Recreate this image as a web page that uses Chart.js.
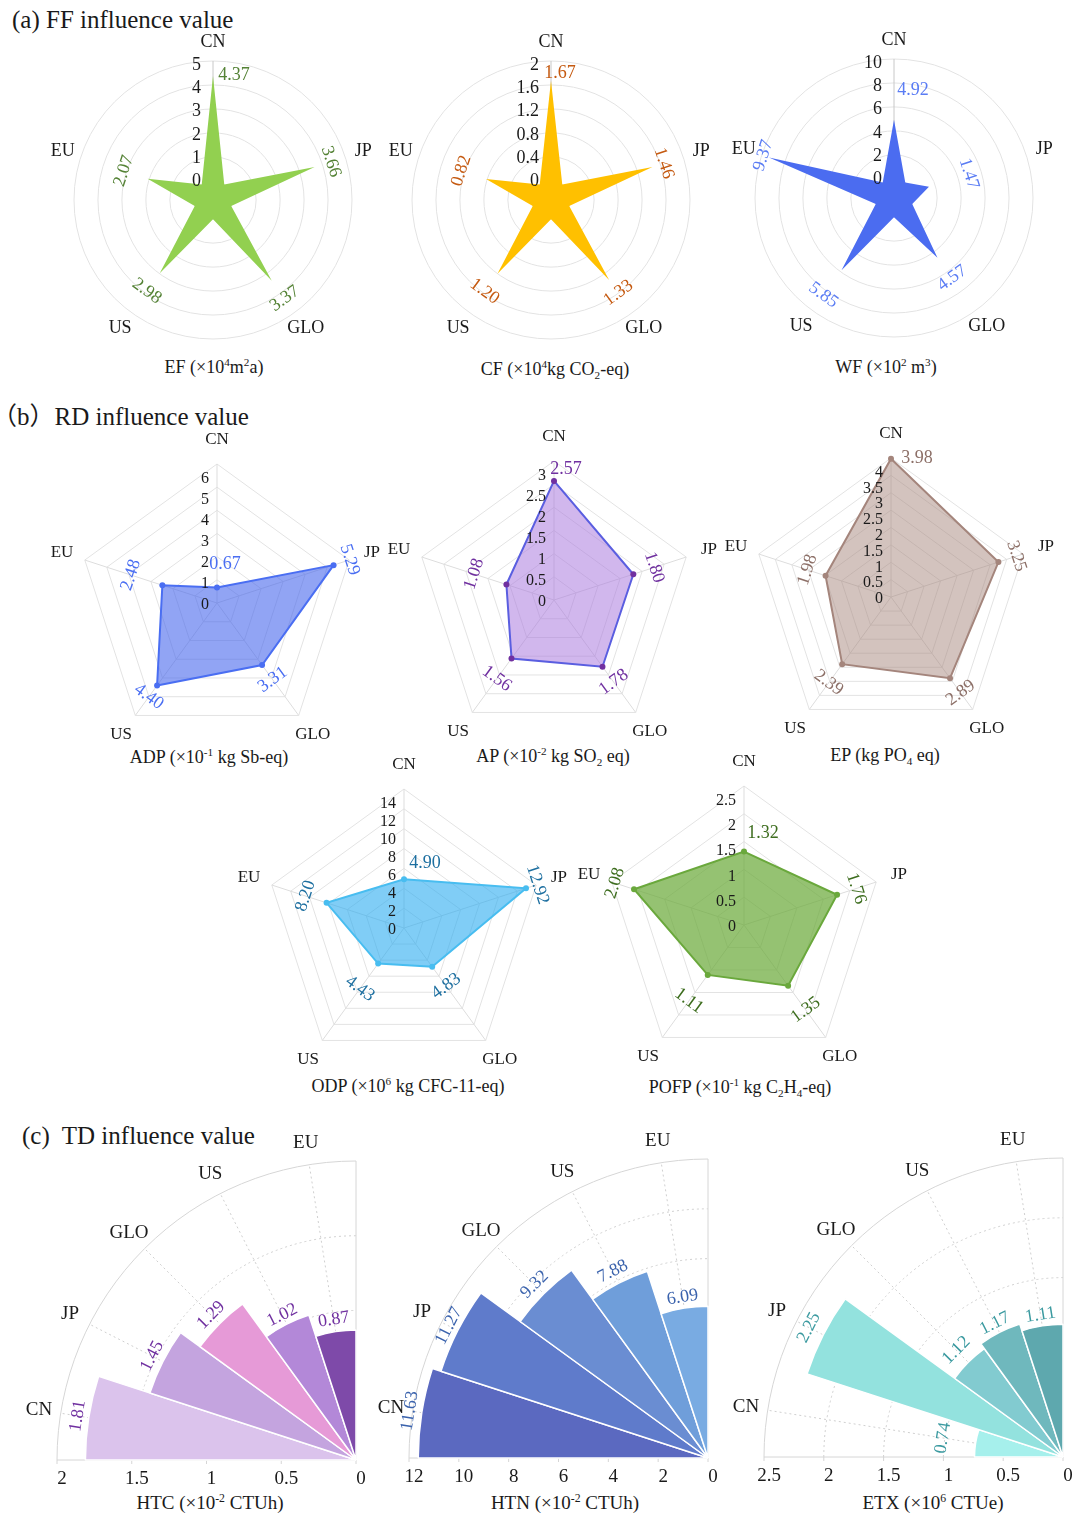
<!DOCTYPE html>
<html>
<head>
<meta charset="utf-8">
<script src="https://cdn.jsdelivr.net/npm/chart.js@4.4.0/dist/chart.umd.min.js"></script>
<style>
body{margin:0;background:#fff;width:1089px;height:1513px;position:relative;overflow:hidden;
  font-family:"Liberation Serif","Times New Roman","Noto Sans CJK SC",serif;color:#1a1a1a;}
canvas{position:absolute;}
.wrap{position:absolute;overflow:hidden;}
.h{position:absolute;white-space:nowrap;font-size:25px;transform:translateY(-50%);}
.t{position:absolute;white-space:nowrap;font-size:18px;transform:translate(-50%,-50%);}
.t.c{font-size:19px;}
sup,sub{font-size:0.62em;line-height:0;}
</style>
</head>
<body>
<div class="h" style="left:12px;top:20px">(a) FF influence value</div>
<div class="h" style="left:-8px;top:414px">（b）RD influence value</div>
<div class="h" style="left:22px;top:1136px">(c)&nbsp; TD influence value</div>

<div class="t" style="left:214px;top:367px">EF (×10<sup>4</sup>m<sup>2</sup>a)</div>
<div class="t" style="left:555px;top:369px">CF (×10<sup>4</sup>kg CO<sub>2</sub>-eq)</div>
<div class="t" style="left:886px;top:367px">WF (×10<sup>2</sup> m<sup>3</sup>)</div>
<div class="t" style="left:209px;top:757px">ADP (×10<sup>-1</sup> kg Sb-eq)</div>
<div class="t" style="left:553px;top:756px">AP (×10<sup>-2</sup> kg SO<sub>2</sub> eq)</div>
<div class="t" style="left:885px;top:755px">EP (kg PO<sub>4</sub> eq)</div>
<div class="t" style="left:408px;top:1086px">ODP (×10<sup>6</sup> kg CFC-11-eq)</div>
<div class="t" style="left:740px;top:1087px">POFP (×10<sup>-1</sup> kg C<sub>2</sub>H<sub>4</sub>-eq)</div>
<div class="t c" style="left:210px;top:1503px">HTC (×10<sup>-2</sup> CTUh)</div>
<div class="t c" style="left:565px;top:1503px">HTN (×10<sup>-2</sup> CTUh)</div>
<div class="t c" style="left:933px;top:1503px">ETX (×10<sup>6</sup> CTUe)</div>

<script>
// categories
const regions = ['CN', 'JP', 'GLO', 'US', 'EU'];

// (a) FF influence values
const efVals = [4.37, 3.66, 3.37, 2.98, 2.07];
const cfVals = [1.67, 1.46, 1.33, 1.20, 0.82];
const wfVals = [4.92, 1.47, 4.57, 5.85, 9.37];
const efTicks = [0, 1, 2, 3, 4, 5];
const cfTicks = [0, 0.4, 0.8, 1.2, 1.6, 2];
const wfTicks = [0, 2, 4, 6, 8, 10];

// (b) RD influence values
const adpVals = [0.67, 5.29, 3.31, 4.40, 2.48];
const apVals = [2.57, 1.80, 1.78, 1.56, 1.08];
const epVals = [3.98, 3.25, 2.89, 2.39, 1.98];
const odpVals = [4.90, 12.92, 4.83, 4.43, 8.20];
const pofpVals = [1.32, 1.76, 1.35, 1.11, 2.08];
const adpTicks = [0, 1, 2, 3, 4, 5, 6];
const apTicks = [0, 0.5, 1, 1.5, 2, 2.5, 3];
const epTicks = [0, 0.5, 1, 1.5, 2, 2.5, 3, 3.5, 4];
const odpTicks = [0, 2, 4, 6, 8, 10, 12, 14];
const pofpTicks = [0, 0.5, 1, 1.5, 2, 2.5];

// (c) TD influence values
const htcVals = [1.81, 1.45, 1.29, 1.02, 0.87];
const htnVals = [11.63, 11.27, 9.32, 7.88, 6.09];
const etxVals = [0.74, 2.25, 1.12, 1.17, 1.11];
const htcTicks = [0, 0.5, 1, 1.5, 2];
const htnTicks = [0, 2, 4, 6, 8, 10, 12];
const etxTicks = [0, 0.5, 1, 1.5, 2, 2.5];

const FONT = '"Liberation Serif", "Times New Roman", serif';

function makeCanvas(parent, left, top, w, h) {
  const c = document.createElement('canvas');
  c.width = w; c.height = h;
  c.style.left = left + 'px'; c.style.top = top + 'px';
  c.style.width = w + 'px'; c.style.height = h + 'px';
  parent.appendChild(c);
  return c;
}

// text turned along the circle, never upside down
function rot(a) {
  let d = (90 + a * 180 / Math.PI) % 360;
  if (d > 180) d -= 360;
  if (d < -180) d += 360;
  if (d > 90) d -= 180;
  if (d < -90) d += 180;
  return d * Math.PI / 180;
}

function radar(p) {
  const W = 360, H = 370, ox = 180, oy = 185, R = 139;
  const canvas = makeCanvas(document.body, p.cx - ox, p.cy - oy, W, H);
  const labels = [], data = [];
  regions.forEach((r, i) => {
    labels.push(r); data.push(p.vals[i]);
    if (p.star) { labels.push(''); data.push(0); }
  });
  const k = p.star ? 2 : 1;
  const max = p.ticks[p.ticks.length - 1];
  const min = p.star ? -0.8 * (p.ticks[1] - p.ticks[0]) : 0;

  new Chart(canvas, {
    type: 'radar',
    data: {
      labels: labels,
      datasets: [{
        data: data,
        fill: 'start',
        backgroundColor: p.fill,
        borderColor: p.star ? p.fill : p.line,
        borderWidth: p.star ? 0 : 2,
        pointRadius: p.star ? 0 : 3,
        pointBackgroundColor: p.dot || p.line,
        pointBorderWidth: 0,
        tension: 0
      }]
    },
    options: {
      responsive: false,
      animation: false,
      layout: { padding: { left: ox - R, right: W - ox - R, top: oy - R, bottom: H - oy - R } },
      plugins: { legend: { display: false }, tooltip: { enabled: false } },
      scales: {
        r: {
          min: min, max: max,
          afterBuildTicks: s => { s.ticks = p.ticks.map(v => ({ value: v })); },
          grid: { circular: !!p.star, color: '#e3e3e3', lineWidth: 1 },
          angleLines: {
            color: c => p.star ? (c.index === 0 ? '#c8c8c8' : 'rgba(0,0,0,0)') : '#dddddd',
            lineWidth: 1
          },
          ticks: { display: false },
          pointLabels: { display: false }
        }
      }
    },
    plugins: [{
      id: 'radarText',
      afterDraw(chart) {
        const s = chart.scales.r, ctx = chart.ctx;
        const xc = s.xCenter, yc = s.yCenter;
        ctx.save();
        ctx.textBaseline = 'middle';
        ctx.fillStyle = '#1a1a1a';
        ctx.textAlign = 'right';
        ctx.font = p.tickFont + 'px ' + FONT;
        p.ticks.forEach(v => {
          ctx.fillText(String(v), xc - p.tickDx, yc - s.getDistanceFromCenterForValue(v) * p.tickK + p.tickDy);
        });
        ctx.textAlign = 'center';
        ctx.font = p.nameFont + 'px ' + FONT;
        regions.forEach((r, i) => {
          const pt = s.getPointPosition(i * k, R + p.nameGap);
          ctx.fillText(r, pt.x, pt.y);
        });
        ctx.fillStyle = p.text;
        ctx.font = '18px ' + FONT;
        p.vals.forEach((v, i) => {
          const d = s.getDistanceFromCenterForValue(v);
          if (i === 0) {
            ctx.fillText(v.toFixed(2), xc + p.cnDx, yc - d - p.lab[0]);
            return;
          }
          const pt = s.getPointPosition(i * k, d + p.lab[i]);
          ctx.save();
          ctx.translate(pt.x, pt.y);
          ctx.rotate(rot(pt.angle));
          ctx.fillText(v.toFixed(2), 0, 0);
          ctx.restore();
        });
        ctx.restore();
      }
    }]
  });
}

function rose(p) {
  const R = 299, m = 41, S = 2 * (R + m);
  // only the upper-left quarter of the round chart is shown
  const wrap = document.createElement('div');
  wrap.className = 'wrap';
  wrap.style.left = (p.cx - R - m) + 'px';
  wrap.style.top = (p.cy - R - m) + 'px';
  wrap.style.width = (R + m + 20) + 'px';
  wrap.style.height = (R + m + 35) + 'px';
  document.body.appendChild(wrap);
  const canvas = makeCanvas(wrap, 0, 0, S, S);
  const max = p.ticks[p.ticks.length - 1];

  new Chart(canvas, {
    type: 'polarArea',
    data: {
      labels: regions,
      datasets: [{
        data: p.vals,
        backgroundColor: p.colors,
        borderColor: '#ffffff',
        borderWidth: 1.5,
        angle: 90 / regions.length
      }]
    },
    options: {
      responsive: false,
      animation: false,
      layout: { padding: m },
      plugins: { legend: { display: false }, tooltip: { enabled: false } },
      scales: {
        r: {
          min: 0, max: max,
          startAngle: 270,
          afterBuildTicks: s => { s.ticks = p.ticks.map(v => ({ value: v })); },
          grid: { display: false },
          angleLines: { display: false },
          ticks: { display: false },
          pointLabels: { display: false }
        }
      }
    },
    plugins: [{
      id: 'roseGrid',
      beforeDatasetsDraw(chart) {
        const s = chart.scales.r, ctx = chart.ctx;
        const xc = s.xCenter, yc = s.yCenter;
        const arcs = chart.getDatasetMeta(0).data;
        const a0 = arcs[0].startAngle, a1 = arcs[arcs.length - 1].endAngle;
        const rMax = s.getDistanceFromCenterForValue(max);
        ctx.save();
        ctx.lineWidth = 1;
        ctx.strokeStyle = '#cfcfcf';
        ctx.setLineDash([2, 3]);
        p.ticks.slice(1, -1).forEach(v => {
          ctx.beginPath();
          ctx.arc(xc, yc, s.getDistanceFromCenterForValue(v), a0, a1);
          ctx.stroke();
        });
        arcs.forEach(a => {
          const mid = (a.startAngle + a.endAngle) / 2;
          ctx.beginPath();
          ctx.moveTo(xc, yc);
          ctx.lineTo(xc + rMax * Math.cos(mid), yc + rMax * Math.sin(mid));
          ctx.stroke();
        });
        ctx.setLineDash([]);
        ctx.strokeStyle = '#d6d6d6';
        ctx.beginPath();
        ctx.arc(xc, yc, rMax, a0, a1);
        ctx.stroke();
        ctx.beginPath();
        ctx.moveTo(xc - rMax, yc);
        ctx.lineTo(xc, yc);
        ctx.lineTo(xc, yc - rMax);
        p.ticks.forEach(v => {
          const x = xc - s.getDistanceFromCenterForValue(v);
          ctx.moveTo(x, yc);
          ctx.lineTo(x, yc + 4);
        });
        ctx.stroke();
        ctx.restore();
      },
      afterDraw(chart) {
        const s = chart.scales.r, ctx = chart.ctx;
        const xc = s.xCenter, yc = s.yCenter;
        const arcs = chart.getDatasetMeta(0).data;
        const rMax = s.getDistanceFromCenterForValue(max);
        ctx.save();
        ctx.textAlign = 'center';
        ctx.textBaseline = 'middle';
        ctx.fillStyle = '#1a1a1a';
        ctx.font = '19px ' + FONT;
        p.ticks.forEach(v => {
          ctx.fillText(String(v), xc - s.getDistanceFromCenterForValue(v) + 5, yc + 19);
        });
        arcs.forEach((a, i) => {
          const mid = (a.startAngle + a.endAngle) / 2;
          ctx.fillText(regions[i], xc + (rMax + 22) * Math.cos(mid), yc + (rMax + 22) * Math.sin(mid));
        });
        ctx.fillStyle = p.text;
        ctx.font = '18px ' + FONT;
        arcs.forEach((a, i) => {
          const mid = (a.startAngle + a.endAngle) / 2;
          const d = s.getDistanceFromCenterForValue(p.vals[i]) + p.lab[i];
          ctx.save();
          ctx.translate(xc + d * Math.cos(mid), yc + d * Math.sin(mid));
          ctx.rotate(rot(mid));
          ctx.fillText(p.vals[i].toFixed(2), 0, 0);
          ctx.restore();
        });
        ctx.restore();
      }
    }]
  });
}

const aStyle = { star: true, tickFont: 18, tickDx: 12, tickK: 0.97, tickDy: 0, nameFont: 18, nameGap: 19 };
const bStyle = { star: false, tickFont: 16, tickDx: 8, tickK: 0.91, tickDy: 2, nameFont: 17, nameGap: 24 };

radar(Object.assign({}, aStyle, { cx: 213, cy: 200, vals: efVals, ticks: efTicks,
  fill: '#92d050', text: '#548235', cnDx: 21, lab: [1, 17, 22, 22, 25] }));
radar(Object.assign({}, aStyle, { cx: 551, cy: 200, vals: cfVals, ticks: cfTicks,
  fill: '#ffc000', text: '#c55a11', cnDx: 9, lab: [8, 12, 16, 22, 26] }));
radar(Object.assign({}, aStyle, { cx: 894, cy: 198, vals: wfVals, ticks: wfTicks,
  fill: '#4b6cf0', text: '#5a7cf4', cnDx: 19, lab: [30, 42, 25, 31, 6] }));

radar(Object.assign({}, bStyle, { cx: 217, cy: 603, vals: adpVals, ticks: adpTicks,
  fill: 'rgba(72,104,236,0.6)', line: '#4a6ef2', text: '#4a6ef2', cnDx: 8, lab: [23, 17, 18, 14, 33] }));
radar(Object.assign({}, bStyle, { cx: 554, cy: 600, vals: apVals, ticks: apTicks,
  fill: 'rgba(172,124,222,0.55)', line: '#5a5ee0', dot: '#7030a0', text: '#7030a0', cnDx: 12, lab: [12, 22, 19, 25, 34] }));
radar(Object.assign({}, bStyle, { cx: 891, cy: 597, vals: epVals, ticks: epTicks,
  fill: 'rgba(168,136,126,0.5)', line: '#a4857c', text: '#8d7068', cnDx: 26, lab: [0, 19, 18, 23, 19] }));
radar(Object.assign({}, bStyle, { cx: 404, cy: 928, vals: odpVals, ticks: odpTicks,
  fill: 'rgba(44,172,240,0.6)', line: '#48bdf0', text: '#1d6fa0', cnDx: 21, lab: [16, 12, 24, 31, 22] }));
radar(Object.assign({}, bStyle, { cx: 744, cy: 925, vals: pofpVals, ticks: pofpTicks,
  fill: 'rgba(108,170,60,0.72)', line: '#6aa83c', text: '#3d6d1e', cnDx: 19, lab: [18, 20, 30, 32, 20] }));

rose({ cx: 356, cy: 1460, vals: htcVals, ticks: htcTicks, text: '#7030a0',
  colors: ['#dbc3ec', '#c4a4df', '#e69ad7', '#b388d8', '#7e4aa9'], lab: [11, 12, 12, 10, 12] });
rose({ cx: 708, cy: 1458, vals: htnVals, ticks: htnTicks, text: '#3b63ad',
  colors: ['#5b69c0', '#5f7bcb', '#6a8dd2', '#6f9eda', '#79abe2'], lab: [12, 10, 13, 13, 11] });
rose({ cx: 1063, cy: 1457, vals: etxVals, ticks: etxTicks, text: '#3b9aa0',
  colors: ['#a6f0ec', '#93e2de', '#82cbd0', '#6fb8bd', '#5ea8ae'], lab: [33, 16, 17, 10, 11] });
</script>
</body>
</html>
